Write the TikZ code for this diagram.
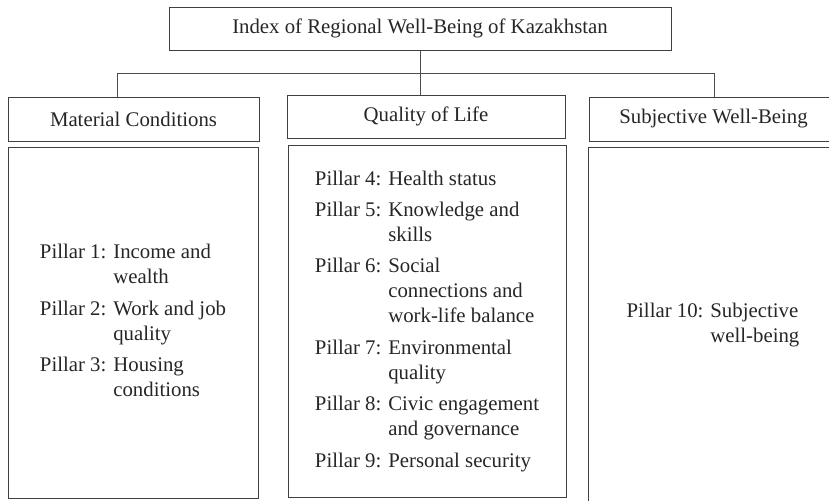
\documentclass[tikz,border=0pt]{standalone}
\usepackage{fontspec}
\setmainfont{Liberation Serif}
\usetikzlibrary{positioning}
\newcommand{\pillars}[1]{\fontsize{10.4}{12.5}\selectfont\begin{tabular}{@{}l@{ }l@{}}#1\end{tabular}}
\begin{document}
\begin{tikzpicture}[x=0.5pt, y=-0.5pt,
		box/.style={draw=black!75, line width=0.5pt, inner sep=0pt, text=black!85, font=\fontsize{10.4}{12.5}\selectfont},
		link/.style={draw=black!70, line width=0.5pt}]
		\useasboundingbox (0,0) rectangle (829,500);
		\clip (0,0) rectangle (829,500);
		\node[box, minimum width=251pt, minimum height=21.5pt] (index) at (420,28.5) {Index of Regional Well-Being of Kazakhstan};
		\node[box, minimum width=125.5pt, minimum height=22pt] (mat) at (133.5,119) {Material Conditions};
		\node[box, minimum width=139pt, minimum height=21.5pt] (qol) at (426,116.5) {Quality of Life};
		\node[box, minimum width=124.5pt, minimum height=22pt] (swb) at (713.5,119) {Subjective Well-Being};
		\node[box, minimum width=125pt, minimum height=175.5pt] (matp) at (133,322.5) {\pillars{
			Pillar 1: & Income and\\ & wealth\\[3.2pt]
			Pillar 2: & Work and job\\ & quality\\[3.2pt]
			Pillar 3: & Housing\\ & conditions}};
		\node[box, minimum width=139pt, minimum height=176pt] (qolp) at (427,321) {\pillars{
			Pillar 4: & Health status\\[3.2pt]
			Pillar 5: & Knowledge and\\ & skills\\[3.2pt]
			Pillar 6: & Social\\ & connections and\\ & work-life balance\\[3.2pt]
			Pillar 7: & Environmental\\ & quality\\[3.2pt]
			Pillar 8: & Civic engagement\\ & and governance\\[3.2pt]
			Pillar 9: & Personal security}};
		\node[box, minimum width=125pt, minimum height=177.5pt] (swbp) at (713,324.5) {\pillars{
			Pillar 10: & Subjective\\ & well-being}};
		\coordinate (jl) at (117,73);
		\coordinate (jr) at (714,73);
		\path[link]
		(index.south) -- (index.south |- qol.north)
		(jl) -- (jr)
		(jl) -- (jl |- mat.north)
		(jr) -- (jr |- swb.north);
\end{tikzpicture}
\end{document}
